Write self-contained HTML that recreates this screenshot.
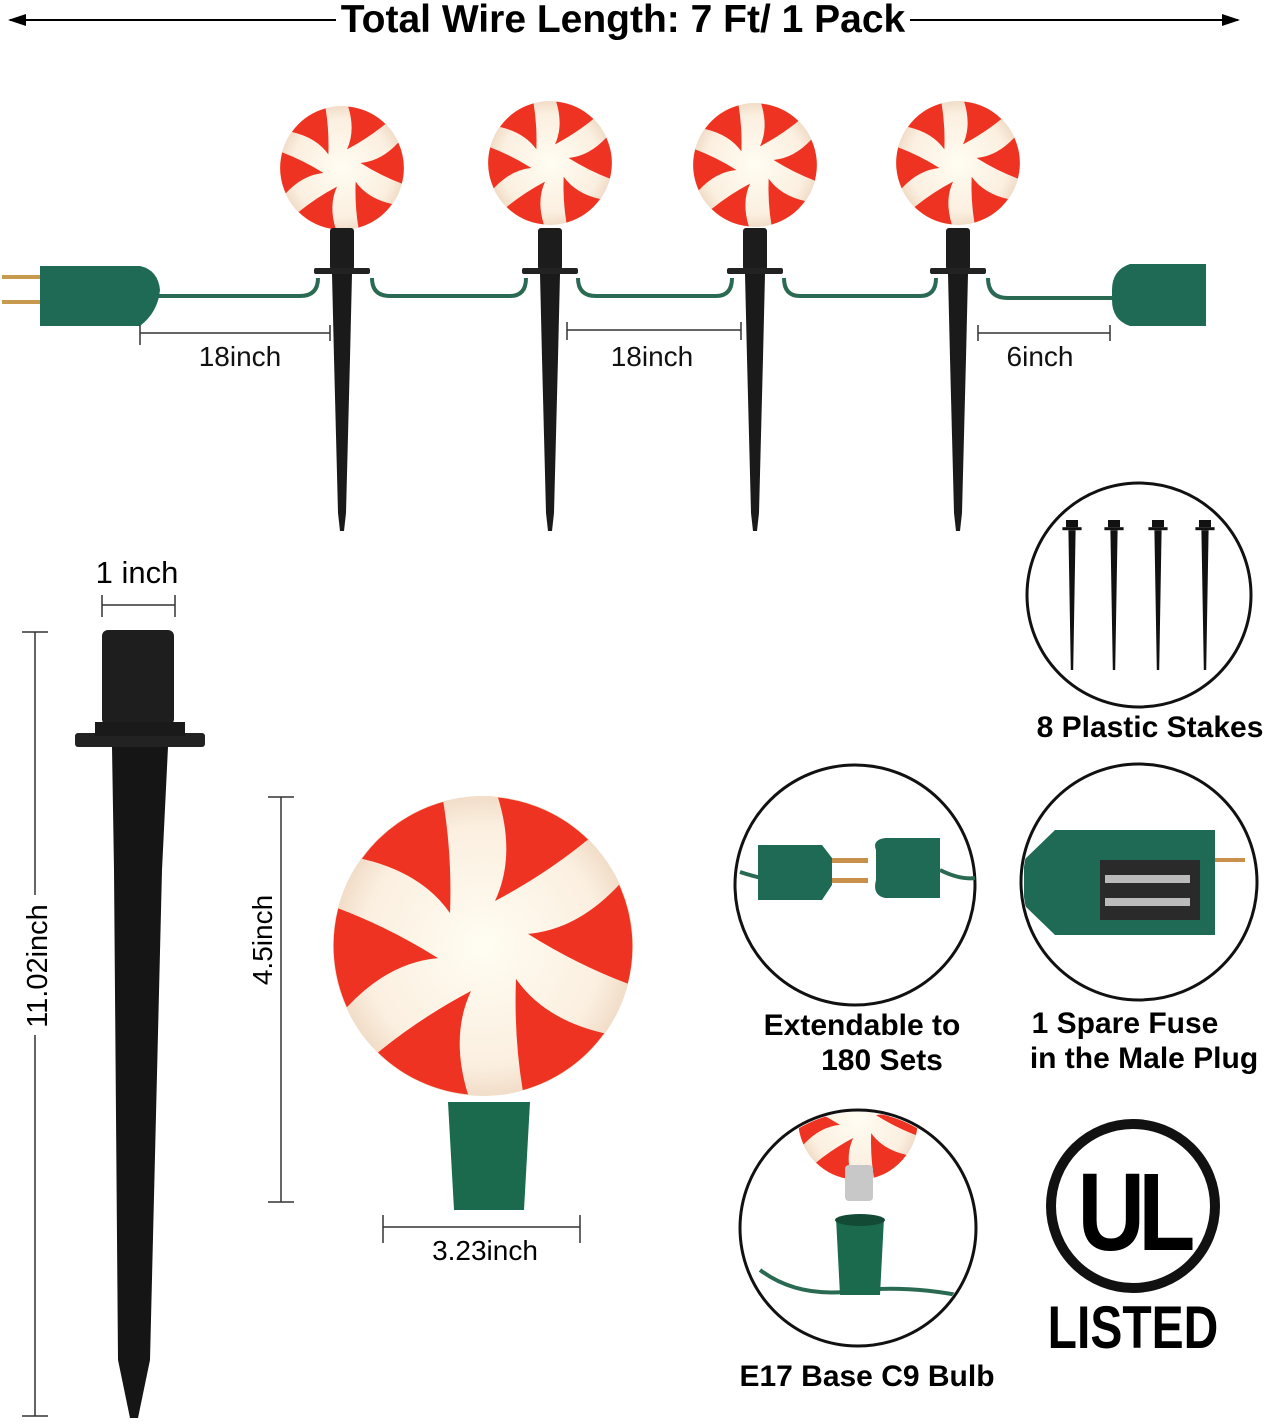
<!DOCTYPE html>
<html><head><meta charset="utf-8"><style>
html,body{margin:0;padding:0;background:#fff;}
svg{display:block;font-family:"Liberation Sans",sans-serif;}
</style></head><body>
<svg width="1266" height="1424" viewBox="0 0 1266 1424" xmlns="http://www.w3.org/2000/svg">
<defs>
<radialGradient id="bg" cx="0.5" cy="0.5" r="0.5">
<stop offset="0" stop-color="#fffdf2"/><stop offset="0.8" stop-color="#fbefe0"/><stop offset="1" stop-color="#f1ddc8"/>
</radialGradient>
<g id="mint">
<circle r="1" fill="url(#bg)"/>
<g fill="#ee3322">
<path id="bl" d="M0.08,-0.3 Q0.22,-0.6 0.1,-0.99 A1 1 0 0 1 0.7,-0.71 Q0.42,-0.48 0.08,-0.3Z"/>
<use href="#bl" transform="rotate(60)"/><use href="#bl" transform="rotate(120)"/>
<use href="#bl" transform="rotate(180)"/><use href="#bl" transform="rotate(240)"/><use href="#bl" transform="rotate(300)"/>
</g>
</g>
<g id="stake">
<rect x="-12" y="0" width="24" height="42" rx="3" fill="#1c1c1c"/>
<rect x="-28" y="40" width="56" height="6" rx="2" fill="#222"/>
<path d="M-10,46 L10,46 L8,130 L4,285 L2,303 L-2,303 L-4,285 L-8,130Z" fill="#1a1a1a"/>
</g>
</defs>

<!-- top arrow -->
<line x1="10" y1="20" x2="1238" y2="20" stroke="#000" stroke-width="2"/>
<path d="M8,20 l18,-6 v12z M1240,20 l-18,-6 v12z" fill="#000"/>
<rect x="336" y="2" width="574" height="36" fill="#fff"/>
<text x="623" y="32" font-size="39" font-weight="bold" text-anchor="middle">Total Wire Length: 7 Ft/ 1 Pack</text>

<!-- wire -->
<path d="M158,296 H300 Q318,296 318,278 M372,278 Q372,296 390,296 H510 Q526,296 526,278 M578,278 Q578,296 596,296 H716 Q732,296 732,278 M784,278 Q784,296 800,296 H920 Q936,296 936,278 M988,278 Q988,298 1008,298 H1112" fill="none" stroke="#2a6a52" stroke-width="4"/>
<!-- plugs -->
<rect x="2" y="275" width="42" height="4" fill="#c89a50"/><rect x="2" y="300" width="42" height="4" fill="#c89a50"/>
<path d="M40,266 H140 Q158,270 160,290 Q158,312 140,326 H40Z" fill="#1f6a55"/>
<path d="M1112,290 Q1112,270 1130,264 H1206 V326 H1130 Q1112,320 1112,300Z" fill="#1f6a55"/>

<!-- lights -->
<g transform="translate(342,168) scale(62)"><use href="#mint"/></g>
<g transform="translate(550,163) scale(62)"><use href="#mint"/></g>
<g transform="translate(755,165) scale(62)"><use href="#mint"/></g>
<g transform="translate(958,163) scale(62)"><use href="#mint"/></g>
<g transform="translate(342,228)"><use href="#stake"/></g>
<g transform="translate(550,228)"><use href="#stake"/></g>
<g transform="translate(755,228)"><use href="#stake"/></g>
<g transform="translate(958,228)"><use href="#stake"/></g>

<!-- dims -->
<g stroke="#333" stroke-width="1.5">
<line x1="140" y1="333" x2="330" y2="333"/><line x1="140" y1="325" x2="140" y2="345"/><line x1="330" y1="325" x2="330" y2="341"/>
<line x1="567" y1="330" x2="741" y2="330"/><line x1="567" y1="322" x2="567" y2="340"/><line x1="741" y1="322" x2="741" y2="340"/>
<line x1="978" y1="333" x2="1110" y2="333"/><line x1="978" y1="325" x2="978" y2="341"/><line x1="1110" y1="325" x2="1110" y2="341"/>
</g>
<g font-size="28" text-anchor="middle" fill="#111">
<text x="240" y="366">18inch</text><text x="652" y="366">18inch</text><text x="1040" y="366">6inch</text>
</g>

<!-- stakes circle -->
<circle cx="1139" cy="595" r="112" fill="#fff" stroke="#111" stroke-width="3"/>
<g fill="#111">
<g transform="translate(1072,520) scale(0.6)"><rect x="-10" y="0" width="20" height="12"/><rect x="-16" y="12" width="32" height="5"/><path d="M-6,17 L6,17 L2,250 L-2,250Z"/></g>
<g transform="translate(1114,520) scale(0.6)"><rect x="-10" y="0" width="20" height="12"/><rect x="-16" y="12" width="32" height="5"/><path d="M-6,17 L6,17 L2,250 L-2,250Z"/></g>
<g transform="translate(1158,520) scale(0.6)"><rect x="-10" y="0" width="20" height="12"/><rect x="-16" y="12" width="32" height="5"/><path d="M-6,17 L6,17 L2,250 L-2,250Z"/></g>
<g transform="translate(1205,520) scale(0.6)"><rect x="-10" y="0" width="20" height="12"/><rect x="-16" y="12" width="32" height="5"/><path d="M-6,17 L6,17 L2,250 L-2,250Z"/></g>
</g>
<text x="1150" y="737" font-size="30" font-weight="bold" text-anchor="middle">8 Plastic Stakes</text>

<!-- big stake -->
<rect x="102" y="630" width="72" height="95" rx="6" fill="#1e1e1e"/>
<rect x="75" y="733" width="130" height="14" rx="3" fill="#222"/>
<rect x="95" y="722" width="90" height="14" fill="#1a1a1a"/>
<path d="M112,747 L168,747 L162,870 L150,1360 L138,1418 L130,1418 L118,1360 L114,870Z" fill="#151515"/>
<g stroke="#333" stroke-width="1.5">
<line x1="102" y1="605" x2="175" y2="605"/><line x1="102" y1="595" x2="102" y2="617"/><line x1="175" y1="595" x2="175" y2="617"/>
<line x1="35" y1="632" x2="35" y2="1416"/><line x1="22" y1="632" x2="48" y2="632"/><line x1="22" y1="1416" x2="48" y2="1416"/>
<line x1="281" y1="797" x2="281" y2="1202"/><line x1="268" y1="797" x2="294" y2="797"/><line x1="268" y1="1202" x2="294" y2="1202"/>
<line x1="383" y1="1227" x2="580" y2="1227"/><line x1="383" y1="1215" x2="383" y2="1243"/><line x1="580" y1="1215" x2="580" y2="1243"/>
</g>
<text x="137" y="583" font-size="31" text-anchor="middle">1 inch</text>
<rect x="20" y="895" width="30" height="140" fill="#fff"/>
<text transform="translate(47,966) rotate(-90)" font-size="29" text-anchor="middle">11.02inch</text>
<rect x="250" y="880" width="30" height="115" fill="#fff"/>
<text transform="translate(272,940) rotate(-90)" font-size="28" text-anchor="middle">4.5inch</text>
<text x="485" y="1260" font-size="28" text-anchor="middle">3.23inch</text>

<!-- big mint -->
<path d="M448,1102 H530 L524,1210 H454Z" fill="#1b6a4e"/>
<g transform="translate(483,946) scale(150)"><use href="#mint"/></g>

<!-- extendable circle -->
<circle cx="855" cy="885" r="120" fill="#fff" stroke="#111" stroke-width="3"/>
<path d="M740,872 Q780,885 800,880" stroke="#2a6a52" stroke-width="4" fill="none"/>
<path d="M758,845 H822 L832,858 V885 L822,900 H758Z" fill="#1f6a55"/>
<rect x="832" y="858" width="36" height="5" fill="#c8904a"/><rect x="832" y="878" width="36" height="5" fill="#c8904a"/>
<path d="M876,850 Q872,840 885,838 H940 V898 H885 Q872,895 876,880Z" fill="#1f6a55"/>
<path d="M940,870 Q960,880 975,878" stroke="#2a6a52" stroke-width="4" fill="none"/>
<g font-size="30" font-weight="bold" text-anchor="middle">
<text x="862" y="1035">Extendable to</text><text x="882" y="1070">180 Sets</text>
<text x="1125" y="1033">1 Spare Fuse</text><text x="1144" y="1068">in the Male Plug</text>
<text x="867" y="1386">E17 Base C9 Bulb</text>
</g>

<!-- fuse circle -->
<circle cx="1139" cy="882" r="118" fill="#fff" stroke="#111" stroke-width="3"/>
<clipPath id="c2"><circle cx="1139" cy="882" r="116"/></clipPath>
<g clip-path="url(#c2)">
<path d="M1024,860 L1055,830 H1215 V935 H1055 L1024,905Z" fill="#1f6a55"/>
<rect x="1100" y="860" width="100" height="60" fill="#2a2a2a"/>
<rect x="1105" y="875" width="85" height="8" fill="#bbb"/><rect x="1105" y="898" width="85" height="8" fill="#bbb"/>
<rect x="1215" y="858" width="30" height="4" fill="#c8904a"/>
</g>

<!-- E17 circle -->
<circle cx="858" cy="1228" r="118" fill="#fff" stroke="#111" stroke-width="3"/>
<clipPath id="c3"><circle cx="858" cy="1228" r="116"/></clipPath>
<g clip-path="url(#c3)">
<g transform="translate(858,1120) scale(60)"><use href="#mint"/></g>
<rect x="845" y="1165" width="28" height="36" rx="4" fill="#c8c8c8"/>
<path d="M760,1270 Q800,1300 860,1290 Q920,1285 980,1300" stroke="#2a6a52" stroke-width="4" fill="none"/>
<path d="M836,1218 H884 L880,1295 H840Z" fill="#1b6a4e"/>
<ellipse cx="860" cy="1220" rx="25" ry="6" fill="#124a36"/>
</g>

<!-- UL -->
<circle cx="1133" cy="1206" r="82" fill="none" stroke="#111" stroke-width="10"/>
<text transform="translate(1133,1250) scale(0.85,1)" font-size="110" font-weight="bold" text-anchor="middle" letter-spacing="-8">UL</text>
<text transform="translate(1133,1348) scale(0.8,1)" font-size="60" font-weight="bold" text-anchor="middle">LISTED</text>
</svg>
</body></html>
